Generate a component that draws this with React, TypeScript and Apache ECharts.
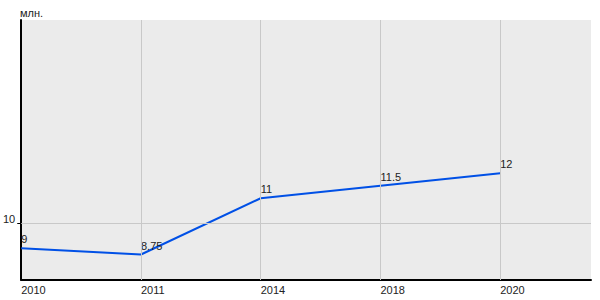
import React, { useEffect, useRef } from "react";
import * as echarts from "echarts";

const categories = ["2010", "2011", "2014", "2018", "2020"];
const values = [9, 8.75, 11, 11.5, 12];
const yTickValues = [10];
const unitLabel = "млн.";

const FONT = "'Liberation Sans', Arial, sans-serif";

export default function App() {
  const ref = useRef<HTMLDivElement>(null);
  useEffect(() => {
    if (!ref.current) return;
    const chart = echarts.init(ref.current, undefined, { renderer: "svg" });
    const idx = categories.map((_, i) => i);
    chart.setOption({
      animation: false,
      textStyle: { fontFamily: FONT },
      grid: {
        left: 20,
        right: 9,
        top: 20,
        bottom: 20,
        show: true,
        backgroundColor: "#ebebeb",
        borderWidth: 0,
      },
      graphic: [
        {
          type: "text",
          left: 20,
          top: 7,
          style: { text: unitLabel, fontSize: 11, fill: "#222", fontFamily: FONT },
        },
      ],
      xAxis: {
        type: "value",
        min: 0,
        max: 571 / 120,
        interval: 1,
        axisLine: { show: true, lineStyle: { color: "#000", width: 2 } },
        axisTick: { show: false },
        splitLine: { show: false },
        axisLabel: {
          customValues: idx,
          formatter: (v: number) => categories[Math.round(v)] ?? "",
          align: "left",
          margin: 4,
          fontSize: 11,
          color: "#222",
          fontFamily: FONT,
        },
      },
      yAxis: {
        type: "value",
        min: 7.73,
        max: 18.13,
        axisLine: { show: true, lineStyle: { color: "#000", width: 2 } },
        axisTick: {
          show: true,
          customValues: yTickValues,
          length: 4,
          lineStyle: { color: "#000", width: 1 },
        },
        splitLine: { show: false },
        axisLabel: {
          customValues: yTickValues,
          margin: 6,
          fontSize: 11,
          color: "#222",
          fontFamily: FONT,
          formatter: (v: number) => `{a|${v}}`,
          rich: {
            a: { fontSize: 11, color: "#222", fontFamily: FONT, padding: [0, 0, 8, 0] },
          },
        },
      },
      series: [
        {
          type: "line",
          data: [],
          z: 1,
          silent: true,
          markLine: {
            silent: true,
            symbol: "none",
            label: { show: false },
            lineStyle: { color: "#c8c8c8", type: "solid", width: 1 },
            data: [
              ...idx.slice(1).map((i) => ({ xAxis: i })),
              ...yTickValues.map((v) => ({ yAxis: v })),
            ],
          },
        },
        {
          type: "line",
          z: 3,
          data: values.map((v, i) => [i, v]),
          showSymbol: true,
          symbol: "circle",
          symbolSize: 1,
          itemStyle: { color: "rgba(0,0,0,0)", borderWidth: 0 },
          lineStyle: { color: "#0050e6", width: 2 },
          label: {
            show: true,
            position: "top",
            distance: 3,
            align: "left",
            fontSize: 11,
            color: "#222",
            fontFamily: FONT,
            formatter: (p: any) => String(p.value[1]),
          },
        },
      ],
    });
    return () => chart.dispose();
  }, []);
  return (
    <div
      ref={ref}
      style={{ position: "fixed", left: 0, top: 0, width: 600, height: 300, background: "#fff" }}
    />
  );
}
